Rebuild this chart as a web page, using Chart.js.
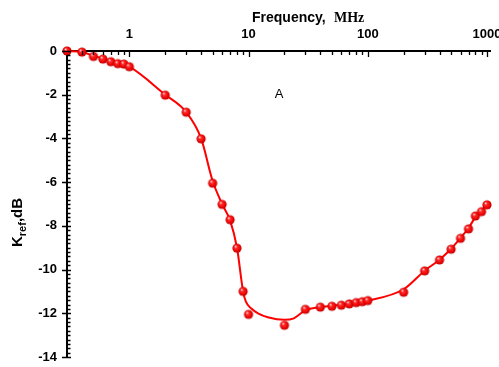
<!doctype html>
<html lang="en">
<head>
<meta charset="utf-8">
<title>Kref vs Frequency</title>
<script src="https://cdn.jsdelivr.net/npm/chart.js"></script>
<style>
  html, body { margin: 0; padding: 0; background: #fff; }
  canvas { display: block; }
</style>
</head>
<body>
<canvas id="krefChart" width="499" height="367"></canvas>
<script>
// measured points (MHz, dB)
const freqs = [0.3, 0.4, 0.5, 0.6, 0.7, 0.8, 0.9, 1, 2, 3, 4, 5, 6, 7, 8, 9, 10,
  20, 30, 40, 50, 60, 70, 80, 90, 100, 200, 300, 400, 500, 600, 700, 800, 900, 1000];
const kref = [0, -0.05, -0.25, -0.37, -0.49, -0.58, -0.6, -0.72, -2.02, -2.8, -4.02, -6.05, -7.02, -7.72, -9.02, -11.0, -12.05,
  -12.55, -11.82, -11.72, -11.68, -11.63, -11.57, -11.51, -11.47, -11.42, -11.04, -10.06, -9.56, -9.07, -8.57, -8.14, -7.55, -7.35, -7.04];

// smooth curve
const fitFreq = [0.3, 0.4, 0.5, 0.6, 0.7, 0.8, 0.9, 1, 2, 3, 4, 5, 6, 7, 8, 9, 9.5, 10.5, 12, 14.5,
  20, 24, 27.5, 30, 40, 50, 60, 70, 80, 90, 100, 200, 300, 400, 500, 600, 700, 800, 900, 1000];
const fitK = [0, -0.05, -0.22, -0.35, -0.47, -0.56, -0.63, -0.72, -2.0, -2.8, -4.0, -5.95, -7.0, -7.75, -9.0, -11.0, -11.47, -11.77, -12.0, -12.18,
  -12.3, -12.23, -12.0, -11.85, -11.72, -11.66, -11.61, -11.56, -11.5, -11.46, -11.42, -10.9, -10.05, -9.55, -9.05, -8.55, -8.1, -7.6, -7.3, -7.0];

// axis ticks
const xMajor = [1, 10, 100, 1000];
const xMinor = [0.4, 0.5, 0.6, 0.7, 0.8, 0.9, 2, 3, 4, 5, 6, 7, 8, 9,
  20, 30, 40, 50, 60, 70, 80, 90, 200, 300, 400, 500, 600, 700, 800, 900];
const yMajor = [0, -2, -4, -6, -8, -10, -12, -14];

const labelFont = '"Liberation Sans", Arial, sans-serif';

// red glossy ball used as point style
function makeBall(r) {
    const c = document.createElement('canvas');
    c.width = c.height = Math.ceil(2 * r + 2);
    const g = c.getContext('2d');
    const cx = c.width / 2, cy = c.height / 2;
    const grad = g.createRadialGradient(cx - r * 0.35, cy - r * 0.4, r * 0.05, cx, cy, r);
    grad.addColorStop(0, '#ffe0e0');
    grad.addColorStop(0.3, '#ff2a2a');
    grad.addColorStop(0.8, '#e80000');
    grad.addColorStop(1, '#b00000');
    g.fillStyle = grad;
    g.beginPath();
    g.arc(cx, cy, r, 0, Math.PI * 2);
    g.fill();
    return c;
}
const ball = makeBall(4.6);

// axis ticks, titles and the "A" note
const decorations = {
    id: 'decorations',
    afterDatasetsDraw(chart) {
        const ctx = chart.ctx;
        const x = chart.scales.x, y = chart.scales.y;
        const top = chart.chartArea.top, left = chart.chartArea.left;
        ctx.save();
        ctx.strokeStyle = '#000';
        ctx.lineWidth = 1.3;
        ctx.beginPath();
        xMinor.forEach(v => {
            const px = Math.round(x.getPixelForValue(v)) + 0.5;
            ctx.moveTo(px, top); ctx.lineTo(px, top + 4);
        });
        xMajor.forEach(v => {
            const px = Math.round(x.getPixelForValue(v)) + 0.5;
            ctx.moveTo(px, top); ctx.lineTo(px, top + 6);
        });
        for (let i = 0; i <= 70; i++) {
            const v = -i * 0.2;
            const py = Math.round(y.getPixelForValue(v)) + 0.5;
            ctx.moveTo(left, py); ctx.lineTo(left + 3.5, py);
        }
        yMajor.forEach(v => {
            const py = Math.round(y.getPixelForValue(v)) + 0.5;
            ctx.moveTo(left - 5, py); ctx.lineTo(left + 4, py);
        });
        ctx.stroke();

        ctx.fillStyle = '#000';
        ctx.textBaseline = 'alphabetic';
        ctx.textAlign = 'left';
        ctx.font = 'bold 14px ' + labelFont;
        ctx.fillText('Frequency,', 252, 22);
        ctx.font = 'bold 14px "Liberation Serif", "Times New Roman", serif';
        ctx.fillText('MHz', 334, 22);

        ctx.font = '13px ' + labelFont;
        ctx.textAlign = 'center';
        ctx.fillText('A', 279, 98);

        // y title, rotated
        ctx.translate(22, 247);
        ctx.rotate(-Math.PI / 2);
        ctx.textAlign = 'left';
        ctx.font = 'bold 15px ' + labelFont;
        ctx.fillText('K', 0, 0);
        let w = ctx.measureText('K').width;
        ctx.font = 'bold 11px ' + labelFont;
        ctx.fillText('ref', w, 4);
        w += ctx.measureText('ref').width;
        ctx.font = 'bold 15px ' + labelFont;
        ctx.fillText(',dB', w, 0);
        ctx.restore();
    }
};

new Chart(document.getElementById('krefChart').getContext('2d'), {
    type: 'scatter',
    data: {
        datasets: [{
            label: 'fit',
            data: fitFreq.map((f, i) => ({ x: f, y: fitK[i] })),
            showLine: true,
            borderColor: '#ff0000',
            borderWidth: 2,
            pointRadius: 0,
            cubicInterpolationMode: 'monotone',
            clip: false,
            order: 2
        }, {
            label: 'Kref',
            data: freqs.map((f, i) => ({ x: f, y: kref[i] })),
            showLine: false,
            pointStyle: ball,
            pointRadius: 4.6,
            clip: false,
            order: 1
        }]
    },
    options: {
        responsive: false,
        animation: false,
        layout: { padding: { left: 0, top: 0, right: 9, bottom: 10 } },
        plugins: {
            legend: { display: false },
            tooltip: { enabled: false }
        },
        scales: {
            x: {
                type: 'logarithmic',
                position: 'top',
                min: 0.3,
                max: 1060,
                afterBuildTicks: scale => { scale.ticks = xMajor.map(v => ({ value: v })); },
                afterFit: scale => {
                    scale.height = 51;
                    scale.paddingLeft = 0;
                    scale.paddingRight = 0;
                },
                grid: { display: false, drawTicks: false },
                border: { display: true, color: '#000', width: 2 },
                ticks: {
                    autoSkip: false,
                    maxRotation: 0,
                    padding: 9,
                    color: '#000',
                    font: { family: labelFont, size: 13, weight: 'bold' },
                    callback: v => String(v)
                }
            },
            y: {
                min: -14,
                max: 0,
                afterBuildTicks: scale => { scale.ticks = yMajor.map(v => ({ value: v })); },
                afterFit: scale => {
                    scale.width = 67;
                    scale.paddingTop = 0;
                    scale.paddingBottom = 0;
                },
                grid: { display: false, drawTicks: false },
                border: { display: true, color: '#000', width: 2 },
                ticks: {
                    padding: 10,
                    color: '#000',
                    font: { family: labelFont, size: 13, weight: 'bold' },
                    callback: v => String(v)
                }
            }
        }
    },
    plugins: [decorations]
});
</script>
</body>
</html>
